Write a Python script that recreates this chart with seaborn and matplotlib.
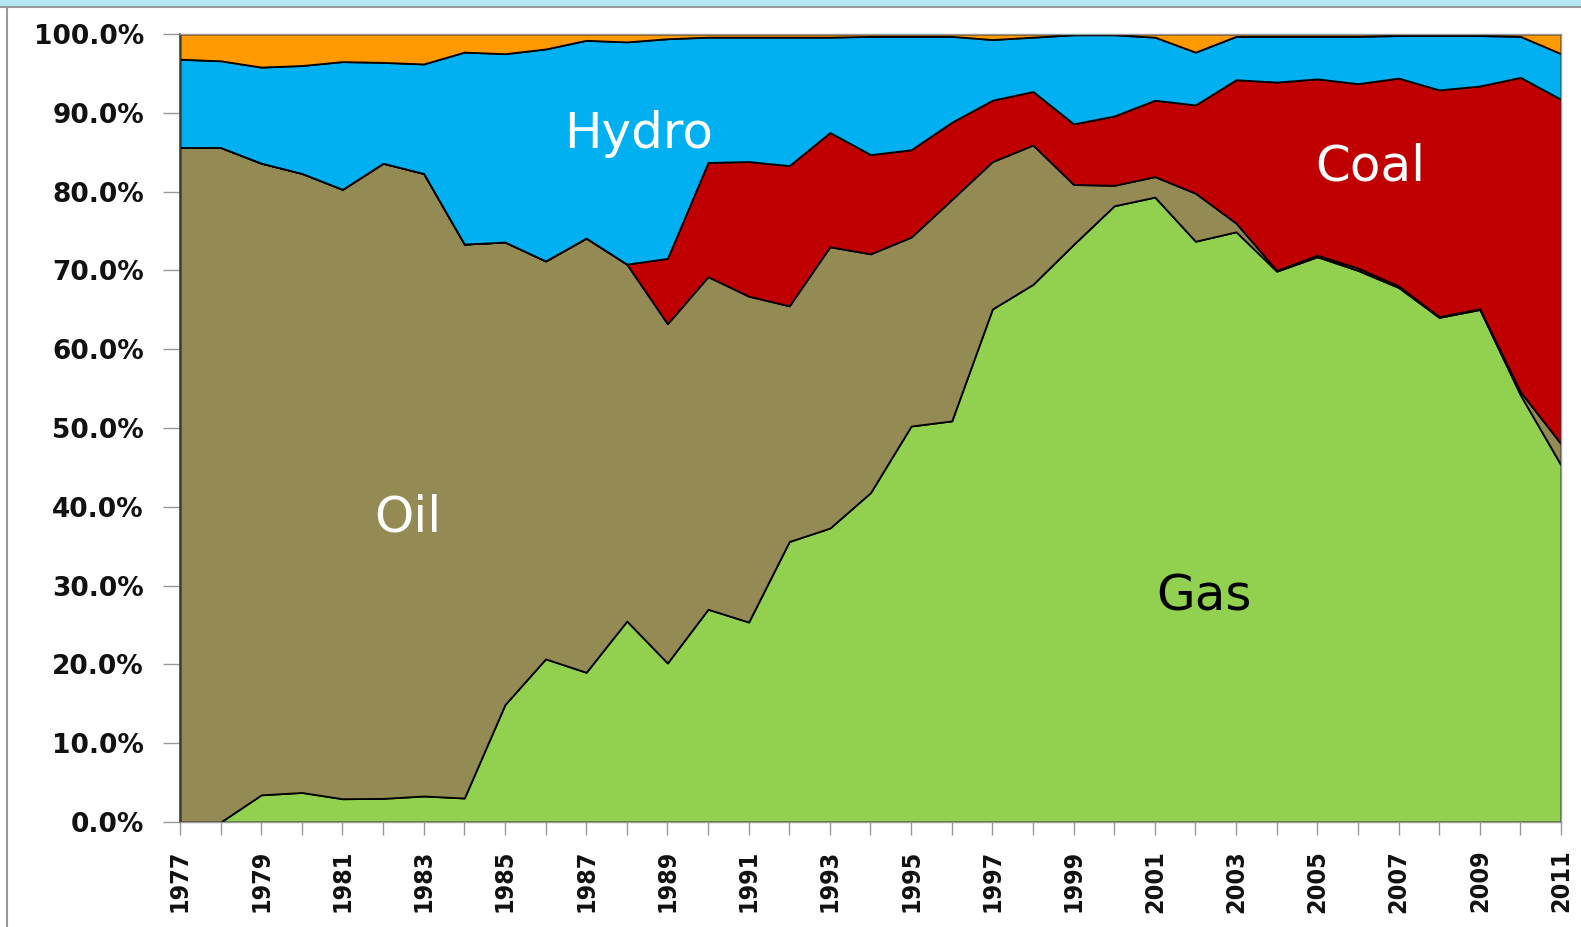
import matplotlib
matplotlib.use("Agg")
import matplotlib.pyplot as plt
import numpy as np
import seaborn as sns

# share of generation by fuel, percent
years = list(range(1977, 2012))
gas = [0.0, 0.0, 3.45, 3.75, 2.95, 3.0, 3.3, 3.05, 14.9, 20.7,
       19.0, 25.5, 20.2, 27.0, 25.4, 35.6, 37.3, 41.8, 50.3, 50.9,
       65.1, 68.3, 73.3, 78.2, 79.3, 73.7, 74.9, 69.9, 71.8, 70.0,
       67.9, 64.1, 65.1, 54.2, 45.3]
oil = [85.6, 85.6, 80.2, 78.6, 77.3, 80.6, 79.0, 70.4, 58.7, 50.5,
       55.1, 45.3, 43.1, 42.2, 41.4, 29.9, 35.7, 30.3, 24.0, 28.1,
       18.7, 17.7, 7.6, 2.6, 2.6, 6.1, 1.1, 0.1, 0.2, 0.3,
       0.2, 0.1, 0.1, 0.4, 2.7]
coal = [0.0, 0.0, 0.0, 0.0, 0.0, 0.0, 0.0, 0.0, 0.0, 0.0,
        0.0, 0.0, 8.3, 14.5, 17.1, 17.8, 14.5, 12.6, 11.1, 9.8,
        7.8, 6.8, 7.7, 8.8, 9.7, 11.2, 18.2, 23.9, 22.4, 23.4,
        26.4, 28.8, 28.3, 39.9, 43.7]
hydro = [11.2, 11.0, 12.2, 13.7, 16.2, 12.8, 13.9, 24.4, 23.9, 26.9,
         25.1, 28.2, 27.9, 15.9, 15.8, 16.3, 12.1, 15.0, 14.4, 10.9,
         7.7, 6.9, 11.3, 10.3, 8.0, 6.7, 5.5, 5.8, 5.4, 6.0,
         5.4, 6.9, 6.4, 5.2, 5.8]
other = [3.2, 3.4, 4.2, 4.0, 3.5, 3.6, 3.8, 2.3, 2.5, 1.9,
         0.8, 1.0, 0.6, 0.4, 0.4, 0.4, 0.4, 0.3, 0.3, 0.3,
         0.7, 0.4, 0.1, 0.1, 0.4, 2.3, 0.3, 0.3, 0.3, 0.3,
         0.2, 0.2, 0.2, 0.3, 2.5]

fuel_colors = ["#92D050", "#948A54", "#C00000", "#00B0F0", "#FF9900"]
y_ticks = list(range(0, 101, 10))
x_tick_labels = [str(y) if (y - 1977) % 2 == 0 else "" for y in years]

# 100% stacked
stack = np.array([gas, oil, coal, hydro, other], dtype=float)
stack = stack / stack.sum(axis=0) * 100

sns.set_theme(style="white")
plt.rcParams['font.family'] = ['DejaVu Sans']

fig = plt.figure(figsize=(15.81, 9.27), dpi=100)
fig.patch.set_facecolor("white")
ax = fig.add_axes([180 / 1581, 1 - 822 / 927, 1381 / 1581, 788 / 927])

ax.stackplot(years, stack, colors=fuel_colors, edgecolor="black", linewidth=1.3)

ax.set_xlim(1977, 2011)
ax.set_ylim(0, 100)
ax.margins(0)

ax.set_yticks(y_ticks)
ax.set_yticklabels([f"{v:.1f}%" for v in y_ticks], fontsize=19, fontweight="bold", color="#111111")
ax.set_xticks(years)
ax.set_xticklabels(x_tick_labels, rotation=90, fontsize=18, fontweight="bold",
                   fontstretch="condensed", color="#111111")
ax.tick_params(axis="y", direction="out", length=12, width=1, color="#999999", pad=14, left=True)
ax.tick_params(axis="x", direction="out", length=9, width=1, color="#999999", pad=11, bottom=True)

for side in ["top", "right", "bottom"]:
    ax.spines[side].set_color("#999999")
    ax.spines[side].set_linewidth(1)
ax.spines["left"].set_color("#444444")
ax.spines["left"].set_linewidth(1.2)

# area labels
ax.text(1988.3, 87.3, "Hydro", color="white", fontsize=36, ha="center", va="center")
ax.text(2006.3, 83.2, "Coal", color="white", fontsize=36, ha="center", va="center")
ax.text(1982.6, 38.6, "Oil", color="white", fontsize=36, ha="center", va="center")
ax.text(2002.2, 28.6, "Gas", color="black", fontsize=36, ha="center", va="center")

# slide frame
fig.patches.append(plt.Rectangle((0, 1 - 6 / 927), 1, 6 / 927, transform=fig.transFigure,
                                 facecolor="#B5E6F2", edgecolor="none"))
fig.lines.append(plt.Line2D([0, 1], [1 - 6.5 / 927] * 2, transform=fig.transFigure,
                            color="#9A9A9A", lw=1.5))
fig.lines.append(plt.Line2D([7 / 1581] * 2, [0, 1 - 6.5 / 927], transform=fig.transFigure,
                            color="#9A9A9A", lw=1.5))

plt.savefig("out.png", dpi=100)
